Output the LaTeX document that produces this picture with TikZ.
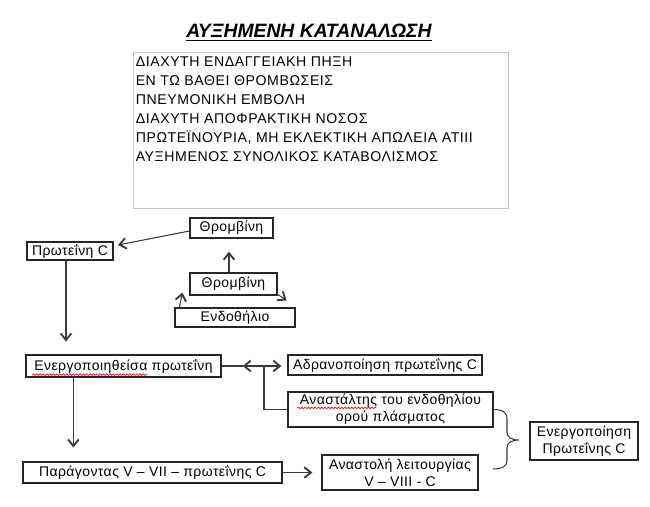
\documentclass[tikz,border=0pt]{standalone}
\usepackage{fontspec}
\setmainfont{Liberation Sans}
\newfontfamily\boxf[LetterSpace=3]{Liberation Sans}
\newfontfamily\listf[LetterSpace=4]{Liberation Sans}
\usetikzlibrary{arrows.meta,calc,decorations.pathmorphing}
\definecolor{linegray}{HTML}{3A3A3A}
\definecolor{boxgray}{HTML}{C4C4C4}
\tikzset{
  box/.style={draw=black!85, line width=0.9pt, inner sep=0pt, align=center,
    font=\fontsize{10.5}{12.75}\selectfont\boxf, text=black},
  tipv/.tip={Straight Barb[length=5pt,width=8pt,line width=1.4pt]},
  line/.style={draw=linegray, line width=0.8pt},
  conn/.style={line, -tipv},
  dbl/.style={line, tipv-tipv},
  squig/.style={draw=red, line width=0.5pt, decorate,
    decoration={snake, amplitude=0.6pt, segment length=2.5pt}}
}
\begin{document}
\begin{tikzpicture}[x=0.75pt,y=-0.75pt]
\useasboundingbox (0,0) rectangle (650,507);

% title
\node[font=\fontsize{14.5}{16}\selectfont\bfseries\itshape, inner sep=0pt] (title) at (309,32.5)
  {\underline{ΑΥΞΗΜΕΝΗ ΚΑΤΑΝΑΛΩΣΗ}};

% list box
\node[draw=boxgray, line width=0.75pt, minimum width=281.25pt, minimum height=117pt, inner sep=0pt] (list) at (320.5,130) {};
\node[anchor=north west, align=left, inner sep=0pt, font=\fontsize{10.6}{14.25}\selectfont\listf] (listtext) at (135.5,56.5)
  {ΔΙΑΧΥΤΗ ΕΝΔΑΓΓΕΙΑΚΗ ΠΗΞΗ\\
   ΕΝ ΤΩ ΒΑΘΕΙ ΘΡΟΜΒΩΣΕΙΣ\\
   ΠΝΕΥΜΟΝΙΚΗ ΕΜΒΟΛΗ\\
   ΔΙΑΧΥΤΗ ΑΠΟΦΡΑΚΤΙΚΗ ΝΟΣΟΣ\\
   ΠΡΩΤΕΪΝΟΥΡΙΑ, ΜΗ ΕΚΛΕΚΤΙΚΗ ΑΠΩΛΕΙΑ ΑΤΙΙΙ\\
   ΑΥΞΗΜΕΝΟΣ ΣΥΝΟΛΙΚΟΣ ΚΑΤΑΒΟΛΙΣΜΟΣ};

% boxes
\node[box, minimum width=62.25pt, minimum height=15pt] (thr1) at (231.5,228) {Θρομβίνη};
\node[box, minimum width=64.5pt, minimum height=13.5pt] (protC) at (70,251) {Πρωτεΐνη C};
\node[box, minimum width=65.25pt, minimum height=16.5pt] (thr2) at (233.5,284) {Θρομβίνη};
\node[box, minimum width=90pt, minimum height=14.25pt] (endo) at (235,317.5) {Ενδοθήλιο};
\node[box, minimum width=146.25pt, minimum height=16.5pt] (act) at (123.5,366) {Ενεργοποιηθείσα πρωτεΐνη};
\node[box, minimum width=145.5pt, minimum height=15pt] (inact) at (385,365) {Αδρανοποίηση πρωτεΐνης C};
\node[box, minimum width=153.75pt, minimum height=26.25pt] (inhib) at (390.5,409.5) {Αναστάλτης του ενδοθηλίου\\ορού πλάσματος};
\node[box, minimum width=194.25pt, minimum height=15.75pt] (factor) at (152.5,472.5) {Παράγοντας V – VII – πρωτεΐνης C};
\node[box, minimum width=117pt, minimum height=26.25pt] (stop) at (400,472.5) {Αναστολή λειτουργίας\\V – VIII - C};
\node[box, minimum width=81pt, minimum height=28.5pt] (actC) at (584,441) {Ενεργοποίηση\\Πρωτεΐνης C};

% connectors
\coordinate (pc) at (118,245);
\draw[conn] ($(thr1.west)+(0,3)$) -- (pc);
\draw[conn] ($(thr2.north)+(-4.5,0)$) -- ($(thr1.south)+(-2.5,13)$);
\draw[conn] ($(endo.north west)+(5,0)$) -- ($(thr2.south west)+(-7,-3)$);
\draw[conn] ($(thr2.south east)+(-1,-2)$) -- ($(endo.north east)+(-9,-7)$);
\draw[conn] ($(protC.south)+(-4,0)$) -- ++(0,81);
\draw[conn] ($(act.south west)+(48,0)$) -- ++(0,70);
\coordinate (jn) at (264,366);
\draw[line] (act.east) -- ++(21,0);
\draw[dbl] ($(act.east)+(21,0)$) -- ($(inact.west)+(-6,1)$);
\draw[line] (inhib.west) -| (jn);
\draw[conn] (factor.east) -- ($(stop.west)+(-9,0)$);

% brace
\draw[line] (inhib.east) .. controls (502,409.5) and (507,412) .. (507,419)
  -- (507,432) .. controls (507,437) and (511,440) .. (519,440)
  .. controls (511,440) and (507,443) .. (507,448)
  -- (507,461) .. controls (507,466) and (502,469) .. (493,469);

% spell-check squiggles
\draw[squig] ($(act.south west)+(7,-3)$) -- ($(act.south west)+(122,-3)$);
\draw[squig] ($(inhib.north west)+(10,16.5)$) -- ($(inhib.north west)+(89,16.5)$);
\end{tikzpicture}
\end{document}
